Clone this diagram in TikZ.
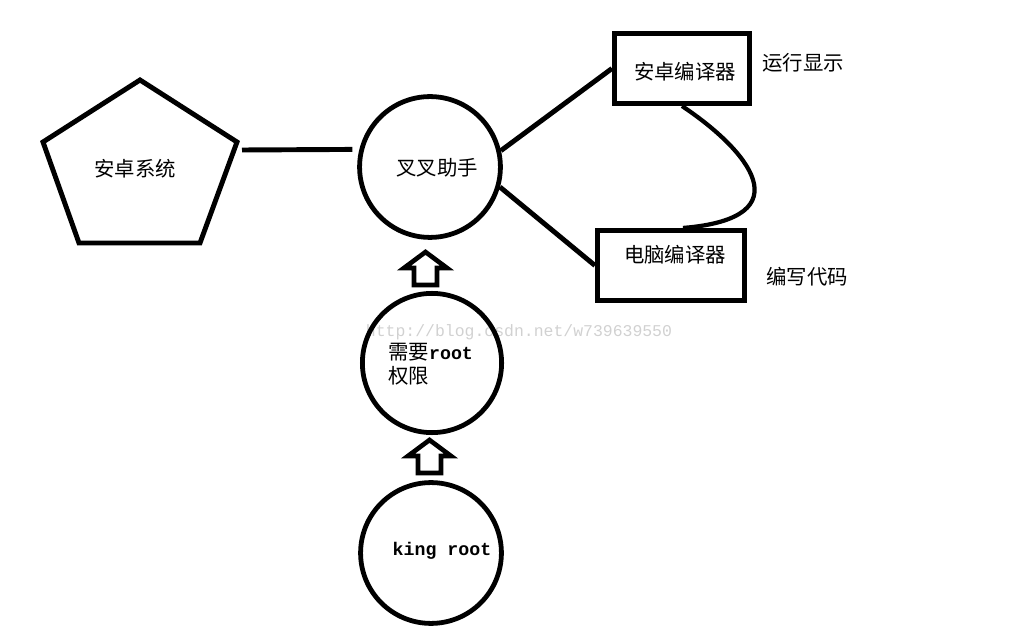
\documentclass[tikz,border=0pt]{standalone}
\usepackage{fontspec}
\setmainfont{Noto Sans CJK SC}
\setmonofont{Liberation Mono}
\usetikzlibrary{calc}

\begin{document}
\begin{tikzpicture}[x=0.025cm, y=-0.025cm,
    thickline/.style={line width=3.5pt},
    bubble/.style={circle, draw, line width=3.4pt, minimum size=3.52cm, inner sep=0pt},
    box/.style={rectangle, draw, line width=3.6pt, minimum height=1.75cm, inner sep=0pt},
    cn/.style={font=\fontsize{14.5}{17}\selectfont, inner sep=0pt},
    en/.style={font=\fontsize{13}{17}\selectfont\ttfamily\bfseries, inner sep=0pt},
    hollowup/.pic={\draw[line width=3.3pt, line join=miter] (-11.5,0) -- (-11.5,-17) -- (-21.5,-17) -- (0,-33) -- (21.5,-17) -- (11.5,-17) -- (11.5,0) -- cycle;}]
    % Units: 1 = one pixel of the 1021x642 frame, y runs downwards.
    \useasboundingbox (0,0) rectangle (1021,642);

    % Watermark
    \node[font=\fontsize{11.7}{14}\selectfont\ttfamily, text=black!18] (mark) at (519,332) {http://blog.csdn.net/w739639550};

    % Android system (pentagon)
    \draw[thickline, line join=miter] (140,80) -- (237,142) -- (200,243) -- (79,243) -- (43,142) -- cycle;
    \coordinate (sys-e) at (242,150);
    \node[cn] (sys) at (135,169) {安卓系统};

    % Circles
    \node[bubble] (helper) at (430,167) {};
    \node[bubble, minimum size=3.48cm] (root) at (432,363) {};
    \node[bubble] (king) at (431,553) {};
    \node[cn] (helper-t) at (437,168) {叉叉助手};
    \node[cn, anchor=west, align=left] (root-t) at (388,364) {需要{\fontsize{13}{17}\selectfont\ttfamily\bfseries root}\\权限};
    \node[en] (king-t) at (442,551) {king root};

    % Compilers
    \node[box, minimum width=3.375cm] (adc) at (682,68.5) {};
    \node[box, minimum width=3.675cm] (pcc) at (671,265.5) {};
    \node[cn] (adc-t) at (685,72) {安卓编译器};
    \node[cn] (pcc-t) at (675,255) {电脑编译器};
    \node[cn] (run) at (803,63) {运行显示};
    \node[cn] (code) at (807,277) {编写代码};

    % Hollow up arrows
    \pic at (425.5,285) {hollowup};
    \pic at (429.5,473) {hollowup};

    % Links
    \draw[thickline, shorten >=5pt] (sys-e) -- (helper.166);
    \draw[thickline] (helper.13) -- (adc.west);
    \draw[thickline] (helper.-16) -- (pcc.west);
    \draw[line width=3pt] (adc.south) .. controls (748,150) and (805,218) .. ($(pcc.north)+(12,0)$);
\end{tikzpicture}
\end{document}
